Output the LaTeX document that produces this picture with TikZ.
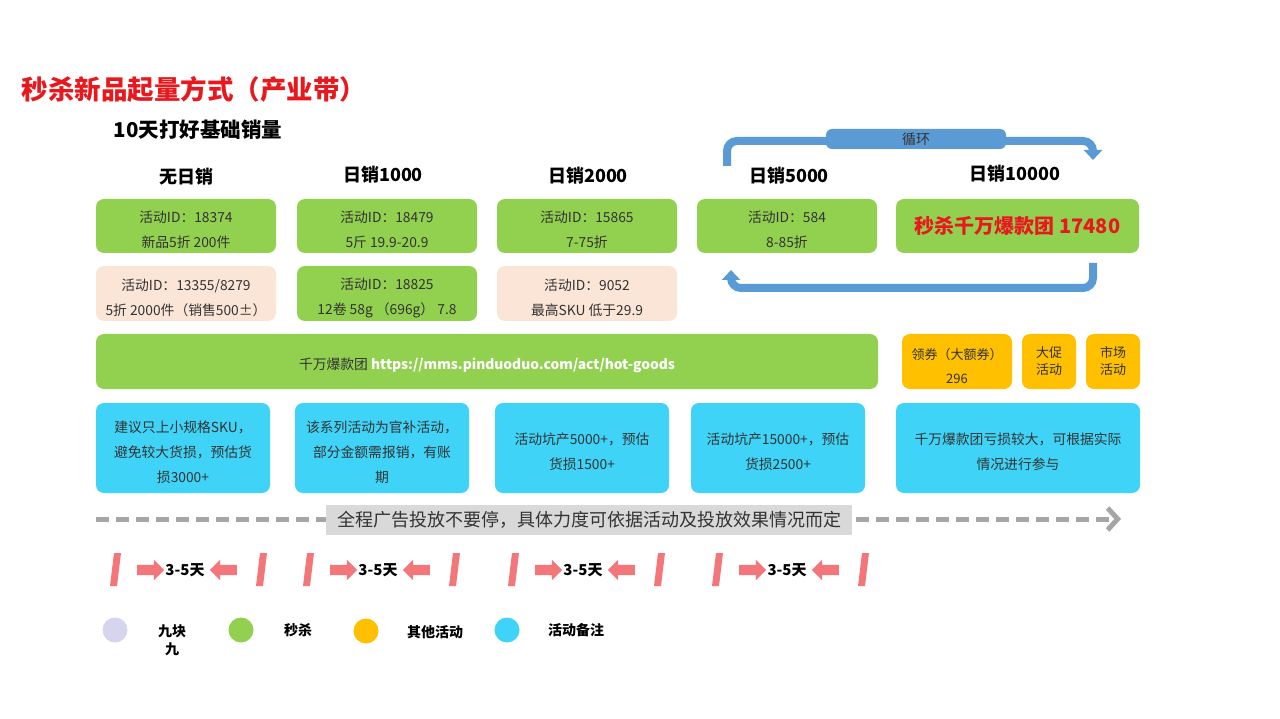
\documentclass[tikz,border=0pt]{standalone}
\usepackage{fontspec}
\setmainfont{Noto Sans CJK SC}
\usetikzlibrary{arrows.meta,shapes.arrows}
\definecolor{cgreen}{HTML}{92D050}
\definecolor{cpink}{HTML}{FBE5D6}
\definecolor{corange}{HTML}{FFC000}
\definecolor{ccyan}{HTML}{3FD4F7}
\definecolor{cblue}{HTML}{5B9BD5}
\definecolor{cgray}{HTML}{A6A6A6}
\definecolor{clabel}{HTML}{D9D9D9}
\definecolor{csalmon}{HTML}{F3777A}
\definecolor{clav}{HTML}{D5D5EE}
\definecolor{cred}{HTML}{E8191E}
\definecolor{ctext}{HTML}{333333}
\newcommand{\dropstrut}{\rule{0pt}{20pt}}
\tikzset{
  box/.style={rounded corners=8pt, inner sep=0pt, align=center, text=ctext,
    font=\fontsize{13.8}{25}\selectfont},
  gbox/.style={box, fill=cgreen},
  pbox/.style={box, fill=cpink},
  obox/.style={box, fill=corange, font=\fontsize{13}{17}\selectfont},
  cbox/.style={box, fill=ccyan},
  head/.style={font=\fontsize{18}{20}\selectfont\bfseries, text=black},
  rarrow/.style={single arrow, fill=csalmon, draw=none, minimum width=20pt,
    single arrow head extend=5pt, single arrow head indent=0pt, minimum height=27pt,
    inner xsep=0pt, inner ysep=5pt, text height=0pt, text depth=0pt},
  larrow/.style={rarrow, shape border rotate=180},
  days/.style={font=\fontsize{15}{17}\selectfont\bfseries},
  dot/.style={circle, minimum size=25pt, inner sep=0pt},
  legtxt/.style={font=\fontsize{14}{18}\selectfont\bfseries, align=center},
  loop/.style={draw=cblue, line width=8pt, rounded corners=10pt},
}
\begin{document}
\begin{tikzpicture}[x=1pt,y=-1pt]
\useasboundingbox[fill=white] (0,0) rectangle (1280,719);

% titles
\node[anchor=west, text=cred, font=\fontsize{26.5}{28}\selectfont\bfseries] (title) at (18,89) {秒杀新品起量方式（产业带）};
\node[anchor=west, font=\fontsize{20.5}{22}\selectfont\bfseries] (sub) at (110,130) {10天打好基础销量};

% column headers
\node[head] (h1) at (186,177) {无日销};
\node[head] (h2) at (383,175) {日销1000};
\node[head] (h3) at (588,176) {日销2000};
\node[head] (h4) at (789,176) {日销5000};
\node[head] (h5) at (1015,174) {日销10000};

% row 1
\node[gbox, minimum width=180pt, minimum height=54pt] (a1) at (186,226) {\dropstrut 活动ID：18374\\新品5折 200件};
\node[gbox, minimum width=180pt, minimum height=54pt] (a2) at (387,226) {\dropstrut 活动ID：18479\\5斤 19.9-20.9};
\node[gbox, minimum width=180pt, minimum height=54pt] (a3) at (587,226) {\dropstrut 活动ID：15865\\7-75折};
\node[gbox, minimum width=180pt, minimum height=54pt] (a4) at (787,226) {\dropstrut 活动ID：584\\8-85折};
\node[gbox, minimum width=243pt, minimum height=54pt, text=cred, font=\fontsize{20}{24}\selectfont\bfseries] (a5) at (1017.5,226) {秒杀千万爆款团 17480};

% row 2
\node[pbox, minimum width=180pt, minimum height=55pt] (b1) at (186,293.5) {\dropstrut 活动ID：13355/8279\\5折 2000件（销售500±）};
\node[gbox, minimum width=180pt, minimum height=55pt] (b2) at (387,293.5) {\dropstrut 活动ID：18825\\12卷 58g （696g） 7.8};
\node[pbox, minimum width=180pt, minimum height=55pt] (b3) at (587,293.5) {\dropstrut 活动ID：9052\\最高SKU 低于29.9};

% big bar
\node[gbox, minimum width=782pt, minimum height=55pt] (bar) at (487,361.5) {\dropstrut 千万爆款团 \textcolor{white}{\bfseries https://mms.pinduoduo.com/act/hot-goods}};

% orange boxes
\node[obox, minimum width=110pt, minimum height=55pt] (o1) at (957,361.5) {\dropstrut 领券（大额券）\\[7pt]296};
\node[obox, minimum width=54pt, minimum height=55pt] (o2) at (1049,361.5) {大促\\活动};
\node[obox, minimum width=54pt, minimum height=55pt] (o3) at (1113,361.5) {市场\\活动};

% cyan boxes
\node[cbox, minimum width=174pt, minimum height=90pt] (c1) at (183,448) {\dropstrut 建议只上小规格SKU，\\避免较大货损，预估货\\损3000+};
\node[cbox, minimum width=174pt, minimum height=90pt] (c2) at (382,448) {\dropstrut 该系列活动为官补活动，\\部分金额需报销，有账\\期};
\node[cbox, minimum width=174pt, minimum height=90pt] (c3) at (582,448) {\dropstrut 活动坑产5000+，预估\\货损1500+};
\node[cbox, minimum width=174pt, minimum height=90pt] (c4) at (778,448) {\dropstrut 活动坑产15000+，预估\\货损2500+};
\node[cbox, minimum width=244pt, minimum height=90pt] (c5) at (1018,448) {\dropstrut 千万爆款团亏损较大，可根据实际\\情况进行参与};

% loop arrows
\coordinate (l1s) at (727,166);
\coordinate (l1e) at (1093,160);
\draw[loop, -{Triangle[width=18pt,length=10pt]}] (l1s) -- (727,141) -- (1093,141) -- (l1e);
\node[fill=cblue, rounded corners=6pt, minimum width=180pt, minimum height=20pt, inner sep=0pt,
  font=\fontsize{14}{16}\selectfont, text=ctext] (xh) at (916,139) {循环};
\coordinate (l2s) at (1093,263);
\coordinate (l2e) at (731,270);
\draw[loop, -{Triangle[width=18pt,length=10pt]}] (l2s) -- (1093,288) -- (731,288) -- (l2e);

% dashed line
\coordinate (ds) at (96,519);
\coordinate (de) at (1121,519);
\draw[draw=cgray, line width=5pt, dash pattern=on 13pt off 7pt,
  -{Straight Barb[length=10pt,width=22pt,line width=5pt]}] (ds) -- (de);
\node[fill=clabel, minimum width=526pt, minimum height=30pt, inner sep=0pt,
  font=\fontsize{18}{20}\selectfont, text=ctext] (lbl) at (589,520) {全程广告投放不要停，具体力度可依据活动及投放效果情况而定};

% 3-5 days groups
\foreach \cx/\n in {185/1,378/2,583/3,787/4}{
  \fill[csalmon] (\cx-71,553) -- (\cx-64,553) -- (\cx-68,586) -- (\cx-75,586) -- cycle;
  \fill[csalmon] (\cx+75,553) -- (\cx+82,553) -- (\cx+78,586) -- (\cx+71,586) -- cycle;
  \node[rarrow] (ra\n) at (\cx-37,570) {};
  \node[days] (d\n) at (\cx,570) {3-5天};
  \node[larrow] (la\n) at (\cx+41,570) {};
}

% legend
\node[dot, fill=clav] (g1) at (115,630) {};
\node[legtxt, anchor=north] (t1) at (172,621) {九块\\九};
\node[dot, fill=cgreen] (g2) at (241,630) {};
\node[legtxt] (t2) at (298,630) {秒杀};
\node[dot, fill=corange] (g3) at (366,631) {};
\node[legtxt] (t3) at (435,632) {其他活动};
\node[dot, fill=ccyan] (g4) at (507,630) {};
\node[legtxt] (t4) at (576,630) {活动备注};
\end{tikzpicture}
\end{document}
